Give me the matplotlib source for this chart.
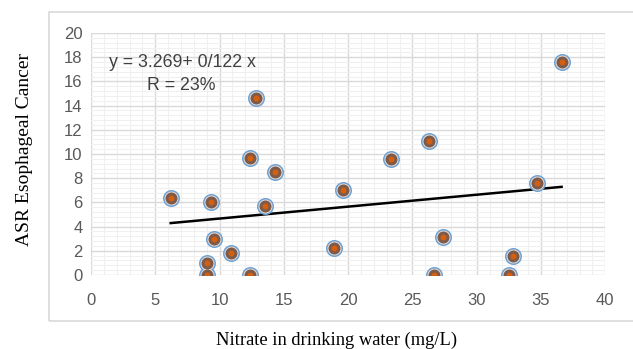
import numpy as np
import matplotlib.pyplot as plt
from matplotlib.patches import Rectangle
from matplotlib.ticker import MultipleLocator

nitrate = [6.2, 9.3, 13.5, 9.6, 10.9, 9.0, 9.0, 12.4, 14.3, 12.4, 12.8, 36.6,
           26.3, 23.3, 19.6, 34.7, 18.9, 27.4, 26.7, 32.8, 32.5]
asr = [6.4, 6.0, 5.7, 3.0, 1.8, 1.0, 0.0, 0.0, 8.5, 9.7, 14.6, 17.6,
       11.1, 9.6, 7.0, 7.6, 2.2, 3.1, 0.0, 1.6, 0.0]

x = np.array(nitrate)
y = np.array(asr)

plt.rcParams['font.family'] = ['Liberation Sans', 'DejaVu Sans']

fig = plt.figure(figsize=(6.33, 3.49), dpi=100)
ax = fig.add_axes([91/633, 1 - 275/349, (605.3 - 91)/633, (275 - 33)/349])

# chart border like an Excel chart area
fig.patches.append(Rectangle((49/633, 1 - 321/349), 1, (321 - 12)/349,
                             transform=fig.transFigure, fill=False,
                             edgecolor='#d9d9d9', linewidth=1.2))

ax.set_xlim(0, 40)
ax.set_ylim(0, 20)
ax.xaxis.set_major_locator(MultipleLocator(5))
ax.yaxis.set_major_locator(MultipleLocator(2))
ax.xaxis.set_minor_locator(MultipleLocator(1))
ax.yaxis.set_minor_locator(MultipleLocator(0.4))
ax.grid(which='major', color='#d9d9d9', linewidth=1.0, zorder=0)
ax.grid(which='minor', color='#f0f0f0', linewidth=0.8, zorder=0)
ax.set_axisbelow(True)
for s in ax.spines.values():
    s.set_visible(False)
ax.tick_params(which='both', length=0, labelsize=12, labelcolor='#595959')
ax.tick_params(axis='x', pad=13)
ax.tick_params(axis='y', pad=6)

# trend line from the least squares fit
b, a = np.polyfit(x, y, 1)
xs = np.array([x.min(), x.max()])
ax.plot(xs, a + b * xs, color='black', linewidth=1.8, zorder=2)

# layered markers
ax.scatter(x, y, s=150, color='#6fa2d4', zorder=3, linewidths=0)
ax.scatter(x, y, s=100, color='#eedfd4', zorder=4, linewidths=0)
ax.scatter(x, y, s=75, color='#7d5a4a', zorder=5, linewidths=0)
ax.scatter(x, y, s=18, color='#d4600f', zorder=6, linewidths=0)

ax.text(7.15, 17.6, 'y = 3.269+ 0/122 x', fontsize=12.8, color='#404040',
        ha='center', va='center')
ax.text(7.05, 15.7, 'R = 23%', fontsize=12.8, color='#404040',
        ha='center', va='center')

fig.text(25/633, 1 - 150/349, 'ASR Esophageal Cancer', rotation=90,
         fontfamily='Liberation Serif', fontsize=14, ha='center', va='center')
fig.text(337/633, 1 - 340/349, 'Nitrate in drinking water (mg/L)',
         fontfamily='Liberation Serif', fontsize=13.3, ha='center', va='center')

fig.savefig('out.png', dpi=100)
